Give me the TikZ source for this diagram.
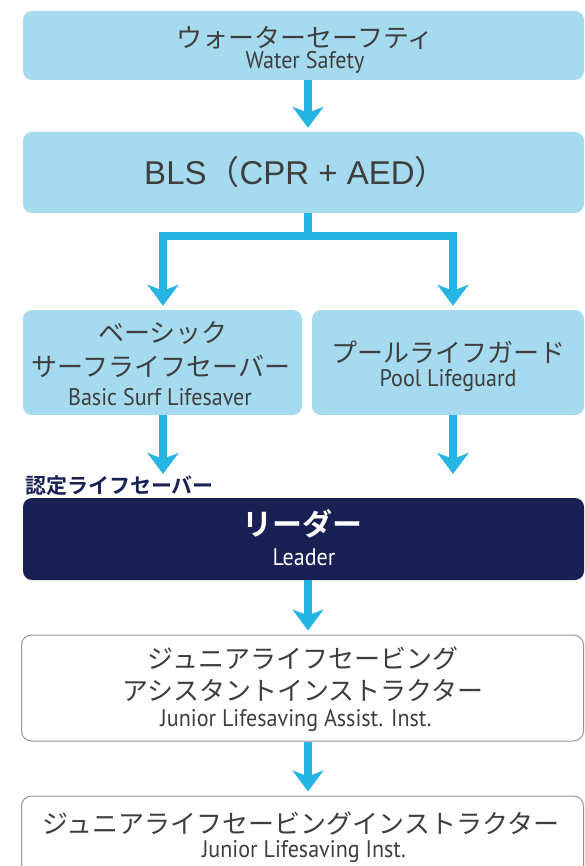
\documentclass[tikz,border=0pt]{standalone}
\usepackage{fontspec}
\usetikzlibrary{arrows.meta}
\newfontfamily\jp{Noto Sans CJK JP}
\newfontfamily\jpb{Noto Sans CJK JP Bold}
\newfontfamily\en[FakeStretch=0.92]{PT Sans}
\newfontfamily\lib{Liberation Sans}
\definecolor{boxblue}{RGB}{166,219,239}
\definecolor{arrblue}{RGB}{38,180,226}
\definecolor{navy}{RGB}{24,32,84}
\definecolor{txtgrey}{RGB}{62,62,62}
\definecolor{edgegrey}{RGB}{150,150,150}
\tikzset{
  bluebox/.style={draw=none,fill=boxblue,rounded corners=9pt,inner sep=0pt},
  navybox/.style={draw=none,fill=navy,rounded corners=9pt,inner sep=0pt},
  whitebox/.style={draw=edgegrey,line width=1pt,fill=white,rounded corners=10pt,inner sep=0pt},
  jtxt/.style={inner sep=0pt,text=txtgrey,font=\jp\fontsize{26}{30}\selectfont},
  etxt/.style={inner sep=0pt,text=txtgrey,font=\en\fontsize{24}{27}\selectfont},
  arr/.style={draw=arrblue,line width=8pt,-{Stealth[length=21pt,width=31pt,inset=6pt]},shorten >=4pt},
  conn/.style={draw=arrblue,line width=8pt}
}
\begin{document}
\begin{tikzpicture}[x=1pt,y=-1pt]
\useasboundingbox (0,0) rectangle (585,866);
% boxes
\node[bluebox,minimum width=561pt,minimum height=69pt] (b1) at (303.5,45.5) {};
\node[bluebox,minimum width=561pt,minimum height=81pt] (b2) at (303.5,172.5) {};
\node[bluebox,minimum width=279pt,minimum height=105pt] (b3) at (162.5,362.5) {};
\node[bluebox,minimum width=272pt,minimum height=105pt] (b4) at (448,362.5) {};
\node[navybox,minimum width=561pt,minimum height=82pt] (b5) at (303.5,539) {};
\node[whitebox,minimum width=562pt,minimum height=106pt] (b6) at (302.5,688) {};
\node[whitebox,minimum width=562pt,minimum height=84pt] (b7) at (302.5,838) {};
% texts
\node[jtxt] (t1a) at (305,38) {ウォーターセーフティ};
\node[etxt] (t1b) at (305,62) {Water Safety};
\node[inner sep=0pt,text=txtgrey,font=\lib\fontsize{33}{37}\selectfont] (t2) at (296,172) {BLS{\jp（}CPR + AED{\jp）}};
\node[jtxt] (t3a) at (163,333) {ベーシック};
\node[jtxt] (t3b) at (161,366) {サーフライフセーバー};
\node[etxt] (t3c) at (160,397) {Basic Surf Lifesaver};
\node[jtxt] (t4a) at (448,352) {プールライフガード};
\node[etxt] (t4b) at (448,381) {Pool Lifeguard};
\node[inner sep=0pt,anchor=west,text=navy,font=\jpb\fontsize{21}{24}\selectfont] (lbl) at (25,486) {認定ライフセーバー};
\node[jtxt,text=white,font=\jpb\fontsize{30}{34}\selectfont] (t5a) at (302,524) {リーダー};
\node[etxt,text=white] (t5b) at (304,557) {Leader};
\node[jtxt] (t6a) at (303,658) {ジュニアライフセービング};
\node[jtxt] (t6b) at (303,690) {アシスタントインストラクター};
\node[etxt] (t6c) at (296,721) {Junior Lifesaving Assist. Inst.};
\node[jtxt] (t7a) at (301,823) {ジュニアライフセービングインストラクター};
\node[etxt] (t7b) at (304,852) {Junior Lifesaving Inst.};
% connectors
\coordinate (s1) at (308,80);
\coordinate (s2) at (308,213);
\coordinate (split) at (308,236);
\coordinate (e3) at (163,474);
\coordinate (e4) at (453,474);
\draw[arr] (s1) -- (s1 |- b2.north);
\draw[conn] (s2) -- (split);
\draw[arr] ([xshift=4pt]split) -| (b3.north -| e3);
\draw[arr] ([xshift=-4pt]split) -| (b4.north -| e4);
\draw[arr,shorten >=0pt] (b3.south -| e3) -- (e3);
\draw[arr,shorten >=0pt] (b4.south -| e4) -- (e4);
\draw[arr] (b5.south -| s1) -- (b6.north -| s1);
\draw[arr] (b6.south -| s1) -- (b7.north -| s1);
\end{tikzpicture}
\end{document}
